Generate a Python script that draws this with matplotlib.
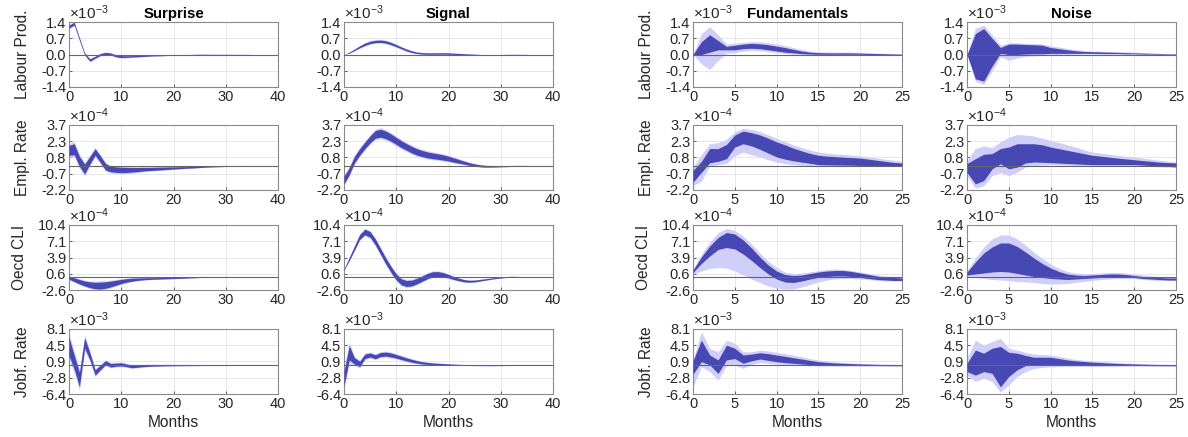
import numpy as np
import matplotlib
matplotlib.use("Agg")
import matplotlib.pyplot as plt

plt.rcParams['font.family'] = ['Liberation Sans', 'DejaVu Sans']
plt.rcParams['mathtext.fontset'] = 'custom'
plt.rcParams['mathtext.rm'] = 'Liberation Sans'
plt.rcParams['mathtext.it'] = 'Liberation Sans'

# ---------------- data ----------------
variables = ["Labour Prod.", "Empl. Rate", "Oecd CLI", "Jobf. Rate"]
exponents = [-3, -4, -4, -3]
ytick_labels = [
    ["-1.4", "-0.7", "0.0", "0.7", "1.4"],
    ["-2.2", "-0.7", "0.8", "2.3", "3.7"],
    ["-2.6", "0.6", "3.9", "7.1", "10.4"],
    ["-6.4", "-2.8", "0.9", "4.5", "8.1"],
]
ylims = [(-1.4, 1.4), (-2.2, 3.7), (-2.6, 10.4), (-6.4, 8.1)]
titles = ["Surprise", "Signal", "Fundamentals", "Noise"]

months_left = np.arange(0, 36)
months_right = np.arange(0, 26)

# Left block: median and half-widths of inner / outer bands (scaled units)
surprise_mid = [
    [1.20, 1.33, 0.66, 0.02, -0.24, -0.12, 0.00, 0.05, 0.02, -0.06, -0.09, -0.09,
     -0.08, -0.07, -0.06, -0.05, -0.04, -0.035, -0.03, -0.025, -0.02, -0.015, -0.01, -0.01,
     -0.005, 0, 0, 0, 0, 0, 0, 0, 0, 0, 0, 0],
    [1.40, 1.50, 0.40, -0.30, 0.50, 1.25, 0.60, -0.10, -0.30, -0.35, -0.38, -0.38,
     -0.37, -0.35, -0.32, -0.30, -0.28, -0.26, -0.24, -0.22, -0.20, -0.18, -0.16, -0.14,
     -0.12, -0.10, -0.08, -0.06, -0.05, -0.04, -0.03, -0.02, -0.01, 0, 0, 0],
    [-0.15, -0.55, -0.95, -1.30, -1.55, -1.70, -1.72, -1.60, -1.40, -1.15, -0.90, -0.70,
     -0.55, -0.45, -0.38, -0.33, -0.30, -0.27, -0.24, -0.22, -0.20, -0.17, -0.14, -0.11,
     -0.08, -0.05, -0.02, 0.00, 0.02, 0.03, 0.03, 0.03, 0.02, 0.02, 0.01, 0.01],
    [4.20, 0.70, -3.20, 5.00, 2.00, -1.60, -0.50, 0.60, 0.00, 0.15, 0.20, 0.00,
     -0.25, -0.20, -0.10, -0.05, 0.00, 0.00, 0.02, 0.03, 0.04, 0.04, 0.04, 0.04,
     0.03, 0.03, 0.03, 0.02, 0.02, 0.02, 0.01, 0.01, 0.01, 0, 0, 0],
]
surprise_win = [
    [0.06, 0.06, 0.05, 0.04, 0.05, 0.04, 0.04, 0.04, 0.04, 0.04, 0.04, 0.035,
     0.03, 0.03, 0.025, 0.025, 0.02, 0.02, 0.02, 0.015, 0.015, 0.015, 0.01, 0.01,
     0.01, 0.01, 0.008, 0.008, 0.006, 0.006, 0.005, 0.005, 0.004, 0.004, 0.003, 0.003],
    [0.45, 0.50, 0.45, 0.45, 0.35, 0.30, 0.30, 0.30, 0.25, 0.25, 0.25, 0.23,
     0.21, 0.19, 0.17, 0.15, 0.14, 0.13, 0.12, 0.11, 0.10, 0.09, 0.08, 0.07,
     0.07, 0.06, 0.05, 0.05, 0.04, 0.04, 0.03, 0.03, 0.02, 0.02, 0.01, 0.01],
    [0.30, 0.38, 0.45, 0.50, 0.58, 0.65, 0.70, 0.65, 0.58, 0.50, 0.42, 0.35,
     0.30, 0.25, 0.20, 0.18, 0.16, 0.15, 0.14, 0.13, 0.12, 0.11, 0.10, 0.08,
     0.07, 0.06, 0.05, 0.05, 0.04, 0.04, 0.03, 0.03, 0.03, 0.02, 0.02, 0.02],
    [2.00, 1.60, 1.60, 1.20, 0.80, 0.60, 0.50, 0.45, 0.40, 0.35, 0.35, 0.30,
     0.30, 0.25, 0.22, 0.20, 0.18, 0.16, 0.15, 0.14, 0.13, 0.12, 0.11, 0.10,
     0.09, 0.08, 0.07, 0.06, 0.05, 0.05, 0.04, 0.04, 0.03, 0.03, 0.02, 0.02],
]
signal_mid = [
    [0.00, 0.08, 0.20, 0.33, 0.44, 0.52, 0.56, 0.57, 0.54, 0.47, 0.38, 0.28,
     0.19, 0.12, 0.07, 0.05, 0.04, 0.04, 0.045, 0.045, 0.04, 0.03, 0.02, 0.01,
     0.00, -0.01, -0.015, -0.02, -0.02, -0.015, -0.01, -0.005, 0, 0, 0, 0],
    [-1.30, -0.50, 0.55, 1.25, 1.85, 2.40, 2.85, 2.95, 2.80, 2.55, 2.25, 1.95,
     1.70, 1.45, 1.25, 1.10, 0.98, 0.90, 0.83, 0.75, 0.65, 0.52, 0.40, 0.28,
     0.16, 0.07, 0.00, -0.04, -0.05, -0.05, -0.04, -0.03, -0.02, -0.01, 0.00, 0.00],
    [1.50, 3.60, 5.80, 8.00, 9.00, 8.50, 7.00, 5.10, 3.20, 1.50, 0.00, -1.00,
     -1.30, -1.20, -0.80, -0.30, 0.20, 0.55, 0.60, 0.45, 0.15, -0.20, -0.50, -0.75,
     -0.85, -0.80, -0.65, -0.50, -0.35, -0.20, -0.10, 0.00, 0.05, 0.05, 0.00, -0.05],
    [-3.00, 2.80, 1.00, 0.30, 2.00, 2.30, 1.90, 2.40, 2.50, 2.30, 2.00, 1.65,
     1.30, 1.00, 0.75, 0.55, 0.42, 0.33, 0.27, 0.22, 0.18, 0.14, 0.10, 0.07,
     0.04, 0.02, 0.00, -0.02, -0.03, -0.03, -0.02, -0.01, 0, 0, 0, 0],
]
signal_win = [
    [0.00, 0.02, 0.03, 0.04, 0.05, 0.05, 0.05, 0.05, 0.05, 0.05, 0.045, 0.04,
     0.04, 0.035, 0.03, 0.03, 0.03, 0.03, 0.03, 0.03, 0.03, 0.025, 0.025, 0.02,
     0.02, 0.02, 0.015, 0.015, 0.012, 0.01, 0.01, 0.008, 0.006, 0.005, 0.004, 0.003],
    [0.35, 0.32, 0.30, 0.30, 0.30, 0.32, 0.35, 0.36, 0.35, 0.33, 0.32, 0.31,
     0.30, 0.30, 0.29, 0.28, 0.27, 0.26, 0.25, 0.24, 0.22, 0.20, 0.17, 0.14,
     0.12, 0.10, 0.09, 0.08, 0.07, 0.06, 0.05, 0.05, 0.04, 0.04, 0.03, 0.03],
    [0.10, 0.30, 0.40, 0.50, 0.55, 0.58, 0.60, 0.60, 0.60, 0.60, 0.60, 0.60,
     0.60, 0.58, 0.55, 0.53, 0.52, 0.50, 0.48, 0.42, 0.35, 0.30, 0.26, 0.22,
     0.20, 0.18, 0.16, 0.14, 0.12, 0.11, 0.10, 0.09, 0.08, 0.07, 0.06, 0.05],
    [1.60, 1.60, 0.70, 0.60, 0.50, 0.45, 0.45, 0.45, 0.45, 0.45, 0.40, 0.38,
     0.35, 0.32, 0.28, 0.25, 0.22, 0.20, 0.18, 0.16, 0.14, 0.12, 0.10, 0.09,
     0.08, 0.07, 0.06, 0.05, 0.05, 0.04, 0.04, 0.03, 0.03, 0.03, 0.02, 0.02],
]
outer_scale = [1.6, 1.4, 1.35, 1.5]

# Right block: explicit bands (inner low, inner high, outer low, outer high)
fund_in_lo = [
    [0, 0.00, 0.10, 0.20, 0.20, 0.20, 0.25, 0.27, 0.25, 0.20, 0.15, 0.10, 0.07,
     0.04, 0.02, 0.01, 0.01, 0.01, 0.01, 0.01, 0.01, 0.0, 0.0, 0.0, 0.0, 0.0],
    [-1.50, -0.60, 0.27, 0.40, 0.64, 1.70, 2.00, 1.80, 1.50, 1.15, 0.80, 0.60, 0.45,
     0.33, 0.22, 0.10, 0.08, 0.07, 0.06, 0.05, 0.03, 0.02, 0.01, 0.0, 0.0, 0.0],
    [0.90, 2.70, 4.20, 5.50, 5.90, 5.60, 4.60, 3.30, 1.90, 0.60, -0.40, -1.00, -1.10,
     -0.80, -0.40, -0.10, 0.10, 0.20, 0.20, 0.10, -0.10, -0.30, -0.50, -0.60, -0.70, -0.70],
    [-2.00, 0.80, 0.10, -1.80, 1.20, 1.50, 0.45, 1.00, 1.40, 1.10, 0.80, 0.60, 0.45,
     0.30, 0.15, 0.07, 0.03, 0.0, -0.02, -0.03, -0.05, -0.05, -0.06, -0.07, -0.08, -0.08],
]
fund_in_hi = [
    [0, 0.55, 0.85, 0.60, 0.35, 0.40, 0.45, 0.48, 0.46, 0.42, 0.36, 0.30, 0.22,
     0.15, 0.10, 0.08, 0.07, 0.07, 0.07, 0.07, 0.06, 0.05, 0.04, 0.03, 0.02, 0.01],
    [-0.43, 0.40, 1.56, 1.56, 1.93, 2.80, 3.15, 3.00, 2.80, 2.50, 2.17, 1.90, 1.60,
     1.35, 1.12, 0.95, 0.88, 0.83, 0.78, 0.74, 0.70, 0.60, 0.50, 0.40, 0.30, 0.25],
    [1.40, 4.00, 6.20, 7.90, 8.90, 8.60, 7.40, 5.80, 4.00, 2.40, 1.20, 0.50, 0.30,
     0.40, 0.70, 1.00, 1.20, 1.30, 1.30, 1.10, 0.80, 0.50, 0.20, 0.00, -0.10, -0.20],
    [1.00, 5.60, 2.30, 1.20, 4.50, 3.80, 2.30, 2.50, 2.80, 2.60, 2.30, 2.00, 1.70,
     1.40, 1.10, 0.80, 0.65, 0.52, 0.45, 0.38, 0.30, 0.25, 0.20, 0.15, 0.12, 0.10],
]
fund_out_lo = [
    [0, -0.40, -0.65, -0.25, 0.05, 0.08, 0.15, 0.18, 0.16, 0.12, 0.08, 0.04, 0.02,
     0.00, -0.01, -0.02, -0.02, -0.02, -0.02, -0.02, -0.02, -0.02, -0.02, -0.01, -0.01, -0.01],
    [-1.80, -1.40, 0.00, 0.10, 0.20, 0.90, 1.25, 1.00, 0.80, 0.55, 0.33, 0.20, 0.10,
     0.03, -0.03, -0.06, -0.07, -0.07, -0.07, -0.06, -0.06, -0.05, -0.05, -0.04, -0.04, -0.04],
    [0.60, 1.20, 1.70, 1.90, 1.80, 1.20, 0.40, -0.40, -1.10, -1.80, -2.20, -2.40, -2.40,
     -2.00, -1.50, -1.00, -0.60, -0.40, -0.30, -0.30, -0.40, -0.50, -0.70, -0.80, -0.80, -0.80],
    [-4.80, -0.30, -1.40, -3.30, 0.00, 0.00, -0.70, 0.20, 0.60, 0.45, 0.30, 0.15, 0.05,
     -0.05, -0.10, -0.15, -0.17, -0.18, -0.18, -0.18, -0.18, -0.18, -0.18, -0.18, -0.18, -0.18],
]
fund_out_hi = [
    [0, 0.90, 1.20, 0.85, 0.45, 0.48, 0.52, 0.55, 0.55, 0.50, 0.45, 0.38, 0.30,
     0.22, 0.15, 0.12, 0.11, 0.10, 0.10, 0.10, 0.09, 0.07, 0.06, 0.05, 0.04, 0.03],
    [-0.10, 1.00, 2.00, 2.10, 2.40, 3.10, 3.40, 3.30, 3.10, 2.80, 2.50, 2.20, 1.90,
     1.65, 1.42, 1.25, 1.15, 1.08, 1.02, 0.96, 0.90, 0.80, 0.70, 0.60, 0.50, 0.42],
    [1.60, 4.60, 7.00, 8.90, 9.70, 9.30, 8.20, 6.60, 4.80, 3.20, 1.90, 1.00, 0.70,
     0.80, 1.00, 1.30, 1.50, 1.60, 1.50, 1.30, 1.00, 0.70, 0.40, 0.20, 0.10, 0.00],
    [1.30, 7.50, 3.80, 3.00, 5.60, 4.90, 3.00, 3.00, 3.40, 3.20, 2.90, 2.60, 2.30,
     1.90, 1.50, 1.20, 0.95, 0.75, 0.62, 0.52, 0.45, 0.38, 0.32, 0.27, 0.23, 0.20],
]
noise_in_lo = [
    [0, -1.05, -1.15, -0.50, 0.05, 0.00, 0.00, 0.02, 0.03, 0.03, 0.05, 0.05, 0.05,
     0.05, 0.05, 0.05, 0.04, 0.04, 0.04, 0.03, 0.03, 0.02, 0.02, 0.01, 0.01, 0.00],
    [-0.60, -1.65, -1.35, -0.28, 0.18, -0.28, -0.12, 0.25, 0.34, 0.31, 0.28, 0.24, 0.20,
     0.17, 0.13, 0.10, 0.10, 0.10, 0.10, 0.10, 0.10, 0.06, 0.02, -0.02, -0.06, -0.10],
    [0.40, 0.60, 0.80, 1.00, 1.10, 1.00, 0.70, 0.40, 0.10, -0.10, -0.30, -0.40, -0.50,
     -0.40, -0.30, -0.20, -0.10, 0.00, 0.00, 0.00, -0.10, -0.30, -0.40, -0.50, -0.60, -0.60],
    [-1.40, -2.20, -1.40, -1.80, -4.80, -2.50, -1.00, -0.07, 0.07, 0.12, 0.20, 0.12, 0.07,
     0.02, -0.03, -0.07, -0.06, -0.06, -0.05, -0.05, -0.05, -0.06, -0.07, -0.08, -0.09, -0.10],
]
noise_in_hi = [
    [0, 0.90, 1.12, 0.70, 0.30, 0.45, 0.45, 0.43, 0.42, 0.40, 0.30, 0.25, 0.20,
     0.16, 0.13, 0.12, 0.11, 0.10, 0.09, 0.08, 0.07, 0.06, 0.05, 0.04, 0.03, 0.02],
    [0.20, 0.64, 1.04, 1.10, 1.56, 1.70, 2.00, 2.00, 2.00, 1.90, 1.70, 1.55, 1.40,
     1.25, 1.10, 0.95, 0.87, 0.78, 0.70, 0.62, 0.55, 0.47, 0.40, 0.33, 0.28, 0.25],
    [1.00, 3.00, 4.80, 6.00, 6.80, 6.80, 6.10, 5.00, 3.80, 2.70, 1.80, 1.10, 0.60,
     0.40, 0.30, 0.40, 0.50, 0.60, 0.60, 0.50, 0.30, 0.10, 0.00, -0.10, -0.20, -0.20],
    [0.45, 3.40, 2.70, 3.80, 4.20, 2.90, 2.70, 2.20, 1.80, 1.80, 1.80, 1.50, 1.20,
     1.00, 0.85, 0.70, 0.60, 0.50, 0.42, 0.35, 0.30, 0.25, 0.20, 0.15, 0.12, 0.10],
]
noise_out_lo = [
    [0, -1.15, -1.29, -0.70, -0.10, -0.25, -0.15, -0.08, -0.06, -0.04, 0.00, 0.00, 0.00,
     0.01, 0.02, 0.02, 0.02, 0.02, 0.02, 0.01, 0.01, 0.00, 0.00, -0.01, -0.01, -0.01],
    [-0.90, -2.05, -1.80, -0.90, -0.60, -0.90, -0.58, -0.12, 0.03, 0.06, 0.10, 0.08, 0.05,
     0.03, 0.00, -0.02, -0.02, -0.02, -0.02, -0.03, -0.03, -0.05, -0.07, -0.10, -0.12, -0.15],
    [0.10, -0.10, -0.30, -0.50, -0.60, -0.70, -0.90, -1.00, -1.10, -1.30, -1.40, -1.40, -1.30,
     -1.10, -0.90, -0.70, -0.50, -0.40, -0.30, -0.30, -0.30, -0.50, -0.60, -0.70, -0.70, -0.70],
    [-2.20, -3.60, -2.90, -3.60, -6.00, -4.40, -2.50, -1.40, -0.70, -0.50, -0.30, -0.28, -0.25,
     -0.25, -0.25, -0.25, -0.22, -0.20, -0.20, -0.18, -0.17, -0.17, -0.17, -0.17, -0.17, -0.17],
]
noise_out_hi = [
    [0, 1.13, 1.27, 0.85, 0.40, 0.50, 0.50, 0.48, 0.47, 0.46, 0.38, 0.32, 0.26,
     0.21, 0.17, 0.15, 0.14, 0.13, 0.12, 0.11, 0.10, 0.08, 0.07, 0.05, 0.04, 0.03],
    [0.50, 1.56, 1.80, 1.65, 2.17, 2.60, 2.85, 2.78, 2.70, 2.50, 2.30, 2.10, 1.90,
     1.70, 1.45, 1.25, 1.15, 1.05, 0.95, 0.87, 0.80, 0.70, 0.60, 0.50, 0.42, 0.35],
    [1.30, 3.80, 6.00, 7.60, 8.40, 8.40, 7.60, 6.40, 5.00, 3.70, 2.60, 1.70, 1.10,
     0.80, 0.70, 0.70, 0.80, 0.90, 0.90, 0.80, 0.60, 0.40, 0.20, 0.10, 0.00, 0.00],
    [1.60, 5.60, 4.50, 5.30, 6.00, 3.80, 3.40, 2.90, 2.50, 2.40, 2.30, 2.00, 1.60,
     1.30, 1.15, 1.00, 0.85, 0.72, 0.62, 0.53, 0.45, 0.38, 0.32, 0.27, 0.23, 0.20],
]

# ---------------- style ----------------
DARK = '#4848B4'
LIGHT = '#CFCFF9'
W, H = 1188, 437
fig = plt.figure(figsize=(W / 100, H / 100), dpi=100)

col_left = [69, 344, 693, 967]
col_w = 209
row_top = [22, 125, 225, 329]
row_h = 65


def style_axes(ax, r, xmax, xticks):
    lo, hi = ylims[r]
    ax.set_xlim(0, xmax)
    ax.set_ylim(lo, hi)
    ax.set_xticks(xticks)
    ax.set_xticklabels([str(t) for t in xticks])
    yt = np.linspace(lo, hi, 5)
    ax.set_yticks(yt)
    ax.set_yticklabels(ytick_labels[r])
    ax.grid(True, color='#e3e3e3', lw=0.6, zorder=0)
    ax.set_axisbelow(True)
    ax.tick_params(direction='in', length=2.5, width=0.5, labelsize=10.5,
                   colors='#262626', pad=2)
    for s in ax.spines.values():
        s.set_color('#8a8a8a')
        s.set_linewidth(0.8)
    ax.axhline(0, color='#666666', lw=0.8, zorder=5)
    ax.text(0.0, 0.995, r'$\times10^{%d}$' % exponents[r], transform=ax.transAxes,
            ha='left', va='bottom', fontsize=11, color='#262626')


for c in range(4):
    for r in range(4):
        x0 = col_left[c] / W
        y0 = 1 - (row_top[r] + row_h) / H
        ax = fig.add_axes([x0, y0, col_w / W, row_h / H])
        if c < 2:
            mids = surprise_mid if c == 0 else signal_mid
            wins = surprise_win if c == 0 else signal_win
            m = np.array(mids[r])
            wi = np.array(wins[r])
            wo = wi * outer_scale[r]
            ax.fill_between(months_left, m - wo, m + wo, color=LIGHT, lw=0, zorder=2)
            ax.fill_between(months_left, m - wi, m + wi, color=DARK, lw=0, zorder=3)
            style_axes(ax, r, 40, [0, 10, 20, 30, 40])
        else:
            if c == 2:
                ilo, ihi, olo, ohi = fund_in_lo, fund_in_hi, fund_out_lo, fund_out_hi
            else:
                ilo, ihi, olo, ohi = noise_in_lo, noise_in_hi, noise_out_lo, noise_out_hi
            ax.fill_between(months_right, olo[r], ohi[r], color=LIGHT, lw=0, zorder=2)
            ax.fill_between(months_right, ilo[r], ihi[r], color=DARK, lw=0, zorder=3)
            style_axes(ax, r, 25, [0, 5, 10, 15, 20, 25])
        if r == 0:
            ax.set_title(titles[c], fontsize=10.8, fontweight='bold', pad=3,
                         color='black')
        if c in (0, 2):
            ax.set_ylabel(variables[r], fontsize=11.2, color='#262626', labelpad=8)
        if r == 3:
            ax.set_xlabel("Months", fontsize=11.2, color='#262626', labelpad=3)

fig.savefig("out.png", dpi=100)
